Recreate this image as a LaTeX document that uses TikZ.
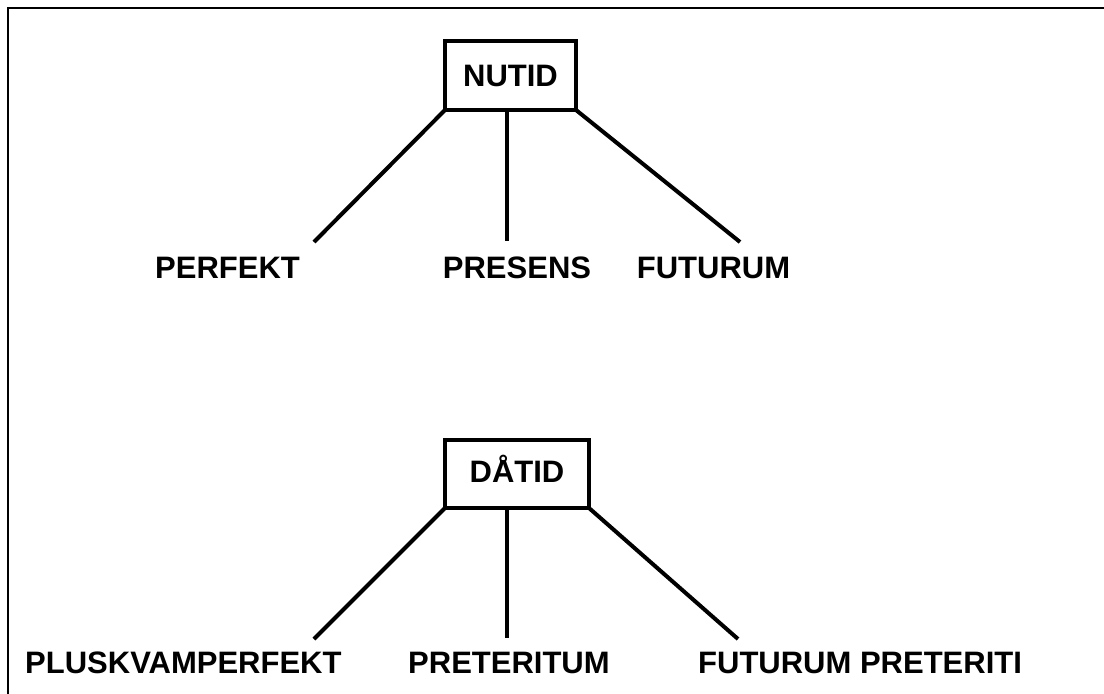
\documentclass[tikz,border=0pt]{standalone}
\usepackage{fontspec}
\setmainfont{Liberation Sans}
\begin{document}
\begin{tikzpicture}[x=1pt,y=-1pt,
  lbl/.style={font=\fontsize{31}{36}\selectfont\bfseries, anchor=base, inner sep=0pt},
  headbox/.style={draw, line width=4pt, inner sep=0pt, outer sep=0pt,
    font=\fontsize{31}{36}\selectfont\bfseries, text height=22.5pt},
  branch/.style={line width=4pt},
  frame/.style={line width=2pt}]
\useasboundingbox (0,0) rectangle (1104,694);
\draw[frame] (8,694) -- (8,8) -- (1104,8);
% top tree
\node[headbox, minimum width=131pt, minimum height=69pt, text depth=0pt] (nutid) at (510.5,75.5) {NUTID};
\coordinate (e1) at (314,242);
\coordinate (e2) at (507,241);
\coordinate (e3) at (740,242);
\draw[branch] (nutid.south west) -- (e1);
\draw[branch] (nutid.south west -| e2) -- (e2);
\draw[branch] (nutid.south east) -- (e3);
\node[lbl] (perfekt) at (227.5,278) {PERFEKT};
\node[lbl] (presens) at (517,278) {PRESENS};
\node[lbl] (futurum) at (713.5,278) {FUTURUM};
% bottom tree
\node[headbox, minimum width=144pt, minimum height=68pt, text depth=6.5pt] (datid) at (517,474) {DÅTID};
\coordinate (f1) at (314,639);
\coordinate (f2) at (507,638);
\coordinate (f3) at (738,639);
\draw[branch] (datid.south west) -- (f1);
\draw[branch] (datid.south west -| f2) -- (f2);
\draw[branch] (datid.south east) -- (f3);
\node[lbl, anchor=base west] (plusk) at (25,673) {PLUSKVAMPERFEKT};
\node[lbl, anchor=base west] (pret) at (408,673) {PRETERITUM};
\node[lbl, anchor=base west] (futpret) at (698,673) {FUTURUM PRETERITI};
\end{tikzpicture}
\end{document}
